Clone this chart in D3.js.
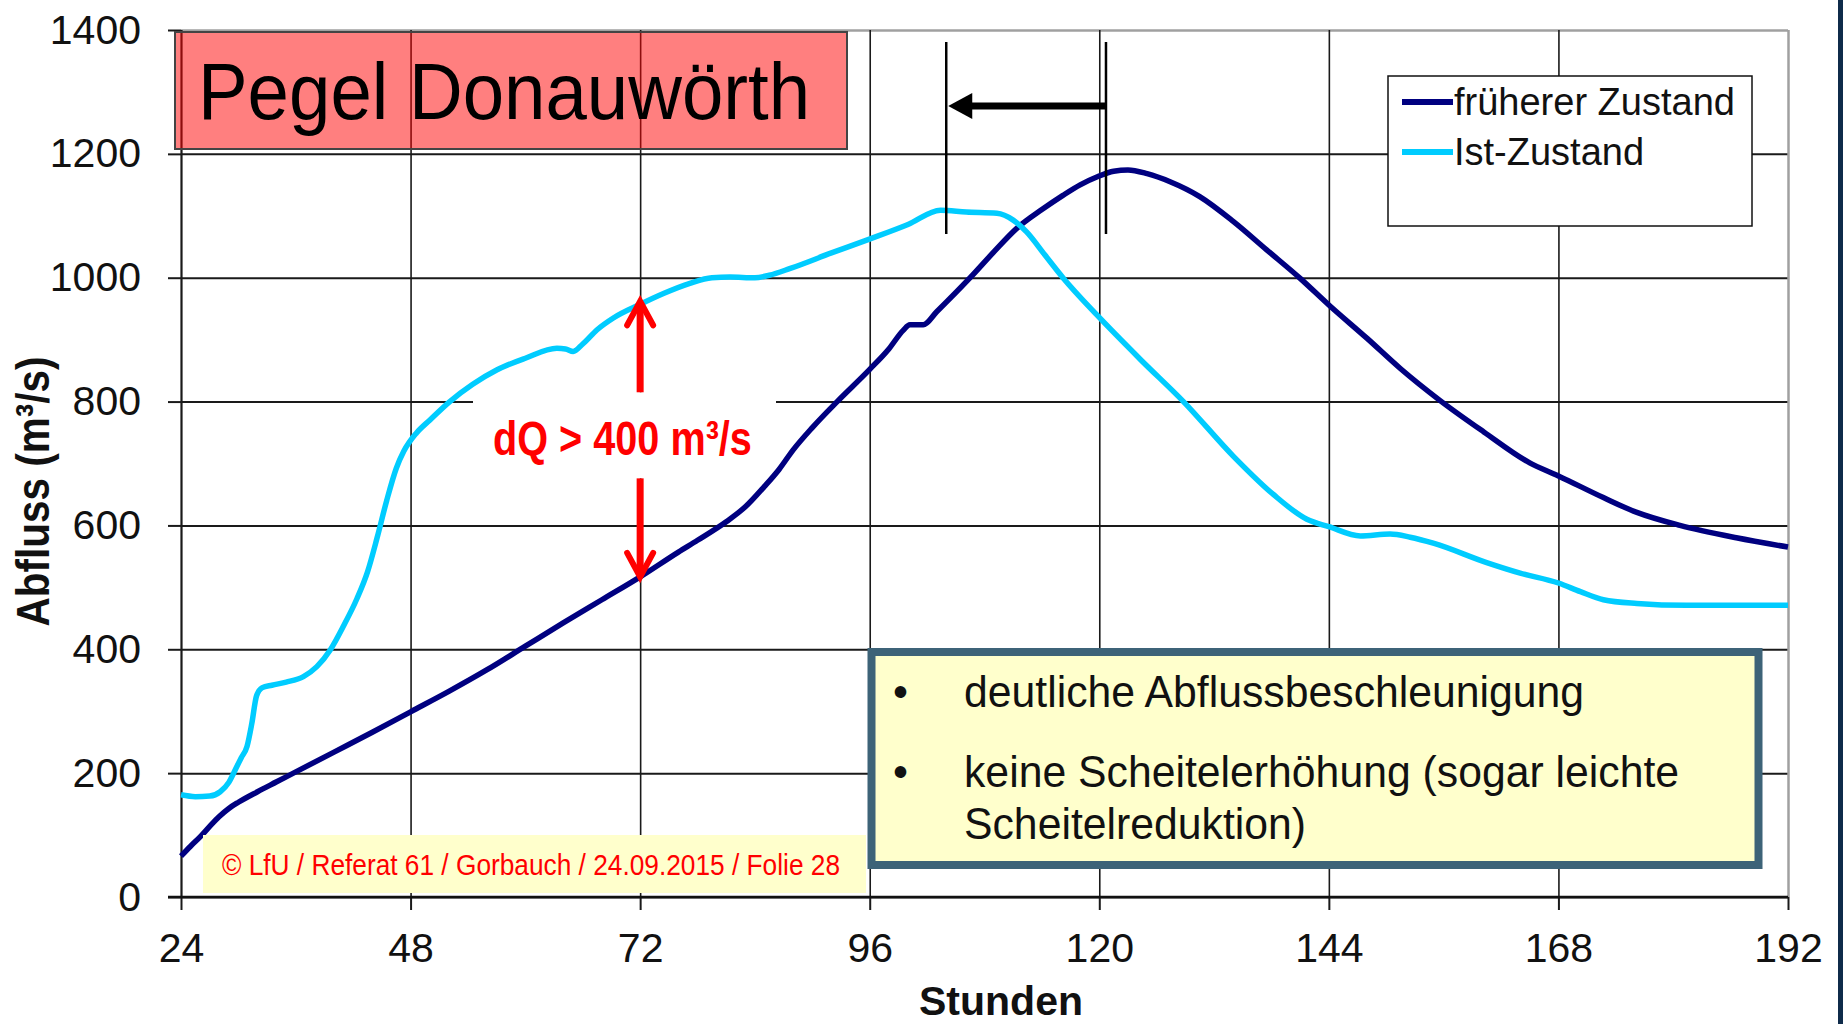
<!DOCTYPE html>
<html>
<head>
<meta charset="utf-8">
<script src="https://cdn.jsdelivr.net/npm/d3@7"></script>
<style>
  body { margin: 0; background: #fff; }
  svg { display: block; font-family: "Liberation Sans", Arial, sans-serif; }
</style>
</head>
<body>
<svg id="chart"></svg>
<script>
// Hydrograph Pegel Donauwörth
var darkHours = [24, 25, 26, 27, 28, 29, 30, 32, 34, 36, 40, 44, 48, 52, 56, 60, 64, 68, 72, 76, 78, 81, 83, 85, 86.5, 88, 90, 92.6, 96, 98, 99.5, 100.2, 101.6, 103, 106.5, 109, 111.4, 114, 116.2, 118, 119.8, 121.5, 123, 125, 127.4, 130.5, 134, 137.5, 141, 144, 148, 151.5, 155.6, 160.2, 165, 168, 172.7, 176.2, 180.7, 186.6, 192];
var darkFlow = [66, 82, 97, 114, 130, 143, 153, 170, 186, 202, 234, 266, 299, 332, 367, 405, 443, 480, 517, 557, 576, 606, 630, 663, 690, 722, 758, 800, 852, 885, 915, 924, 924, 945, 1000, 1042, 1080, 1110, 1133, 1150, 1163, 1172, 1174, 1168, 1155, 1131, 1091, 1045, 999, 956, 902, 853, 802, 751, 701, 680, 645, 621, 600, 580, 565];

var lightHours = [24, 25.5, 27, 28.1, 29, 29.5, 30.3, 30.9, 31.4, 31.9, 32.5, 33.5, 35, 36.8, 38.2, 39.6, 41, 42.4, 43.5, 44.5, 45.5, 46.5, 47.3, 48.6, 50, 52.1, 54.5, 57, 60, 63.3, 64.2, 65, 66, 67.5, 69.2, 71.85, 74.5, 77.2, 79.5, 81.4, 84, 85.5, 87.7, 92, 95.9, 100, 103.4, 106.1, 109.3, 111, 112.4, 114.3, 116.2, 119.8, 124.3, 128.8, 134, 138.2, 141.7, 144, 147.3, 150.4, 152.5, 155, 160.5, 164, 168, 170.3, 172.7, 176.2, 181.4, 192];
var lightFlow = [165, 162, 163, 170, 185, 200, 225, 243, 280, 325, 338, 342, 347, 356, 372, 399, 438, 482, 525, 580, 640, 692, 720, 749, 770, 800, 828, 851, 870, 886, 885, 881, 893, 916, 935, 956, 975, 991, 1000, 1001, 1000, 1004, 1015, 1040, 1062, 1086, 1109, 1106, 1104, 1093, 1074, 1037, 1000, 939, 868, 800, 712, 650, 610, 598, 583, 586, 581, 571, 540, 523, 507, 493, 480, 474, 471, 471];

var seriesNames = ["früherer Zustand", "Ist-Zustand"];
var xTicks = [24, 48, 72, 96, 120, 144, 168, 192];
var yTicks = [0, 200, 400, 600, 800, 1000, 1200, 1400];

// annotations
var peakHours = [104, 120.7];      // Scheitel jetzt / früher
var dqHour = 72;
var dqUpper = [815, 962];          // arrow from -> to
var dqLower = [676, 517];
var bulletLines = [["deutliche Abflussbeschleunigung"], ["keine Scheitelerhöhung (sogar leichte", "Scheitelreduktion)"]];

var W = 1843, H = 1024;
var darkColor = "#000080", lightColor = "#00ccff";

var svg = d3.select("#chart").attr("width", W).attr("height", H);
svg.append("rect").attr("width", W).attr("height", H).attr("fill", "#fff");

var x = d3.scaleLinear().domain([24, 192]).range([181, 1788]);
var y = d3.scaleLinear().domain([0, 1400]).range([897, 30]);
var plotW = x(192) - x(24), plotH = y(0) - y(1400);

// Grid
var gridY = svg.append("g")
    .attr("transform", "translate(" + x(24) + ",0)")
    .call(d3.axisLeft(y).tickValues(yTicks).tickSize(-plotW).tickFormat(""));
gridY.select(".domain").remove();
gridY.selectAll("line")
    .attr("stroke", function (d) { return d == 1400 ? "#a0a0a0" : "#1a1a1a"; })
    .attr("stroke-width", function (d) { return d == 1400 ? 2.5 : 2; });

var gridX = svg.append("g")
    .attr("transform", "translate(0," + y(0) + ")")
    .call(d3.axisBottom(x).tickValues(xTicks).tickSize(-plotH).tickFormat(""));
gridX.select(".domain").remove();
gridX.selectAll("line")
    .attr("stroke", function (d) { return d == 192 ? "#a0a0a0" : "#1a1a1a"; })
    .attr("stroke-width", function (d) { return d == 24 ? 2.2 : (d == 192 ? 2.5 : 1.6); });

// Axes with tick marks and labels
var axY = svg.append("g")
    .attr("transform", "translate(" + x(24) + ",0)")
    .call(d3.axisLeft(y).tickValues(yTicks).tickSize(13).tickPadding(27).tickFormat(d3.format("d")));
axY.select(".domain").remove();
axY.selectAll("line").attr("stroke", "#1a1a1a").attr("stroke-width", 2);
axY.selectAll("text").attr("font-size", 41).attr("fill", "#111")
    .attr("font-family", "Liberation Sans, Arial, sans-serif");

var axX = svg.append("g")
    .attr("transform", "translate(0," + y(0) + ")")
    .call(d3.axisBottom(x).tickValues(xTicks).tickSize(13).tickPadding(23));
axX.select(".domain").remove();
axX.selectAll("line").attr("stroke", "#1a1a1a").attr("stroke-width", 2);
axX.selectAll("text").attr("font-size", 41).attr("fill", "#111")
    .attr("font-family", "Liberation Sans, Arial, sans-serif");
// bottom axis line
svg.append("line")
    .attr("x1", x(24) - 13).attr("x2", x(192))
    .attr("y1", y(0)).attr("y2", y(0))
    .attr("stroke", "#111").attr("stroke-width", 2.5);

// Axis titles
svg.append("text")
    .attr("transform", "translate(49," + ((y(0) + y(1400)) / 2 + 28) + ") rotate(-90) scale(0.88,1)")
    .attr("text-anchor", "middle")
    .attr("font-size", 46).attr("font-weight", "bold").attr("fill", "#111")
    .text("Abfluss (m³/s)");
svg.append("text")
    .attr("x", 1001).attr("y", 1015)
    .attr("text-anchor", "middle")
    .attr("font-size", 41).attr("font-weight", "bold").attr("fill", "#111")
    .text("Stunden");

// white patch behind the dQ label
svg.append("rect")
    .attr("x", 473).attr("y", y(dqUpper[0]))
    .attr("width", 303).attr("height", y(dqLower[0]) - y(dqUpper[0]))
    .attr("fill", "#fff");

// Lines
var line = d3.line()
    .x(function (d) { return x(d[0]); })
    .y(function (d) { return y(d[1]); })
    .curve(d3.curveMonotoneX);

svg.append("path")
    .attr("d", line(d3.zip(darkHours, darkFlow)))
    .attr("fill", "none").attr("stroke", darkColor)
    .attr("stroke-width", 5.5).attr("stroke-linejoin", "round");
svg.append("path")
    .attr("d", line(d3.zip(lightHours, lightFlow)))
    .attr("fill", "none").attr("stroke", lightColor)
    .attr("stroke-width", 5.5).attr("stroke-linejoin", "round");

// dQ arrows
var red = "#ff0000";
[dqUpper, dqLower].forEach(function (a) {
    var x0 = x(dqHour), yA = y(a[0]), yB = y(a[1]);
    var dir = yB < yA ? 1 : -1;
    svg.append("line")
        .attr("x1", x0).attr("x2", x0).attr("y1", yA).attr("y2", yB + dir * 3)
        .attr("stroke", red).attr("stroke-width", 7);
    svg.append("polyline")
        .attr("points", [[x0 - 13, yB + dir * 24], [x0, yB], [x0 + 13, yB + dir * 24]].join(" "))
        .attr("fill", "none").attr("stroke", red).attr("stroke-width", 6)
        .attr("stroke-linecap", "round").attr("stroke-linejoin", "miter");
});
svg.append("text")
    .attr("transform", "translate(493,455) scale(0.826,1)")
    .attr("font-size", 48).attr("font-weight", "bold").attr("fill", red)
    .text("dQ > 400 m³/s");

// Title box
svg.append("rect")
    .attr("x", 175).attr("y", 32).attr("width", 672).attr("height", 117)
    .attr("fill", "#ff0000").attr("fill-opacity", 0.5)
    .attr("stroke", "#444").attr("stroke-width", 2);
svg.append("text")
    .attr("transform", "translate(198,119) scale(0.93,1)")
    .attr("font-size", 80).attr("fill", "#000")
    .text("Pegel Donauwörth");

// Peak shift markers
peakHours.forEach(function (h) {
    svg.append("line")
        .attr("x1", x(h)).attr("x2", x(h)).attr("y1", 42).attr("y2", 234)
        .attr("stroke", "#000").attr("stroke-width", 2.5);
});
svg.append("line")
    .attr("x1", x(peakHours[1])).attr("x2", x(peakHours[0]) + 20)
    .attr("y1", 106).attr("y2", 106)
    .attr("stroke", "#000").attr("stroke-width", 7);
svg.append("path")
    .attr("d", "M" + (x(peakHours[0]) + 2) + ",106 l24,-13 l0,26 z")
    .attr("fill", "#000");

// Legend
var legend = svg.append("g");
legend.append("rect")
    .attr("x", 1388).attr("y", 76).attr("width", 364).attr("height", 150)
    .attr("fill", "#fff").attr("stroke", "#111").attr("stroke-width", 1.5);
[darkColor, lightColor].forEach(function (c, i) {
    var ly = 102 + i * 50;
    legend.append("line")
        .attr("x1", 1402).attr("x2", 1453).attr("y1", ly).attr("y2", ly)
        .attr("stroke", c).attr("stroke-width", 6);
    legend.append("text")
        .attr("x", 1454).attr("y", ly + 13)
        .attr("font-size", 38).attr("fill", "#111")
        .text(seriesNames[i]);
});

// Text box with conclusions
svg.append("rect")
    .attr("x", 871.5).attr("y", 652).attr("width", 887).attr("height", 213)
    .attr("fill", "#ffffcc").attr("stroke", "#3d6378").attr("stroke-width", 8);
var baselines = [[706.7], [786.7, 839]];
bulletLines.forEach(function (lines, i) {
    svg.append("text")
        .attr("transform", "translate(893," + baselines[i][0] + ") scale(0.95,1)")
        .attr("font-size", 45).attr("fill", "#111").text("•");
    lines.forEach(function (t, j) {
        svg.append("text")
            .attr("transform", "translate(964," + baselines[i][j] + ") scale(0.95,1)")
            .attr("font-size", 45).attr("fill", "#111").text(t);
    });
});

// Copyright
svg.append("rect")
    .attr("x", 203).attr("y", 835).attr("width", 663).attr("height", 58)
    .attr("fill", "#ffffcc");
svg.append("text")
    .attr("transform", "translate(222,875) scale(0.876,1)")
    .attr("font-size", 30).attr("fill", red)
    .text("© LfU / Referat 61 / Gorbauch / 24.09.2015 / Folie 28");

// slide edge
svg.append("rect").attr("x", 1838).attr("y", 0).attr("width", 5).attr("height", H).attr("fill", "#0f2b4a");
</script>
</body>
</html>
